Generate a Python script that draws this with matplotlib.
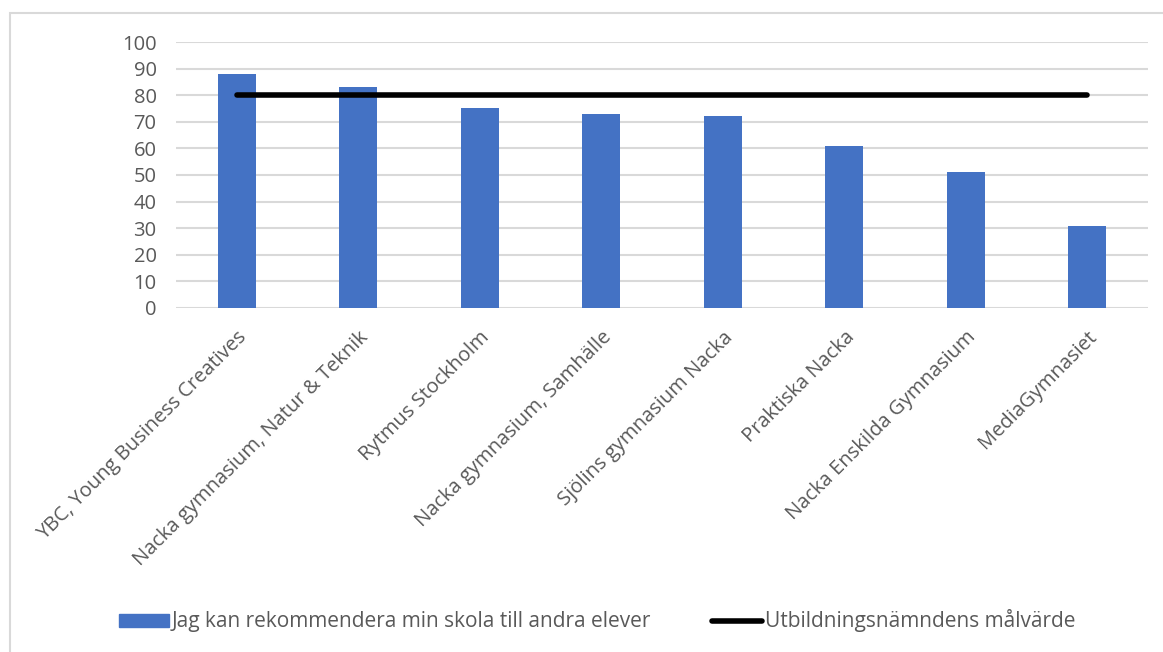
import matplotlib.pyplot as plt
from matplotlib.patches import Rectangle
from matplotlib.lines import Line2D

# data
schools = ['YBC, Young Business Creatives', 'Nacka gymnasium, Natur & Teknik',
           'Rytmus Stockholm', 'Nacka gymnasium, Samhälle', 'Sjölins gymnasium Nacka',
           'Praktiska Nacka', 'Nacka Enskilda Gymnasium', 'MediaGymnasiet']
recommend = [88, 83, 75, 73, 72, 61, 51, 31]
target = [80, 80, 80, 80, 80, 80, 80, 80]

bar_label = 'Jag kan rekommendera min skola till andra elever'
line_label = 'Utbildningsnämndens målvärde'

plt.rcParams['font.family'] = ['Open Sans', 'DejaVu Sans']
grey = '#595959'

fig = plt.figure(figsize=(11.63, 6.52), dpi=100)
ax = fig.add_axes([176 / 1163, 1 - 308 / 652, (1148 - 176) / 1163, (308 - 42) / 652])

x = range(len(schools))
ax.bar(x, recommend, width=0.31, color='#4472C4', zorder=2)
ax.plot(x, target, color='black', lw=4, solid_capstyle='round', zorder=3)

ax.set_xlim(-0.5, len(schools) - 0.5)
ax.set_ylim(0, 100)
ax.set_yticks(range(0, 101, 10))
ax.grid(axis='y', color='#d9d9d9', lw=1.5, zorder=0)
for s in ax.spines.values():
    s.set_visible(False)
ax.tick_params(length=0, labelsize=14.5, colors=grey, pad=14)
ax.tick_params(axis='x', pad=14)
ax.set_xticks(list(x))
ax.set_xticklabels(schools, rotation=45, ha='right', rotation_mode='anchor')

# chart frame
fig.patches.append(Rectangle((10 / 1163, -0.01), 1.0, 1 - 13 / 652 + 0.01,
                             transform=fig.transFigure, fill=False,
                             edgecolor='#d9d9d9', lw=1.5))

handles = [Rectangle((0, 0), 1, 1, color='#4472C4'),
           Line2D([0], [0], color='black', lw=4, solid_capstyle='round')]
fig.legend(handles, [bar_label, line_label], loc='center', ncol=2,
           bbox_to_anchor=(597 / 1163, 1 - 621 / 652), frameon=False,
           fontsize=15, labelcolor=grey, handlelength=2.4, handleheight=0.6,
           handletextpad=0.15, columnspacing=2.9)

plt.savefig('out.png', dpi=100)
